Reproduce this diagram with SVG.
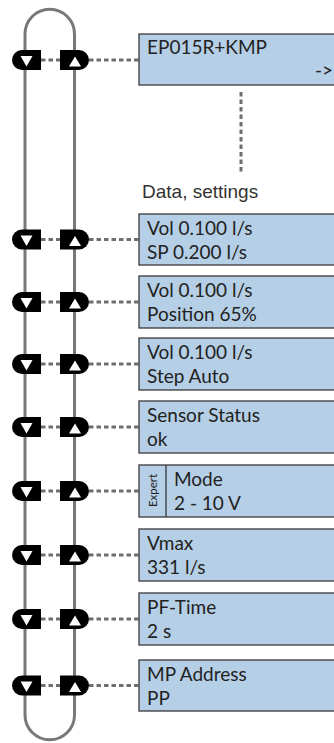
<svg xmlns="http://www.w3.org/2000/svg" width="334" height="743" viewBox="0 0 334 743">
<style>
.box{fill:#b5cfe6;stroke:#3a3a3a;stroke-width:1.3}
.t{font-family:Lato,"Liberation Sans",sans-serif;font-size:19px;fill:#222}
.lbl{font-family:"Liberation Sans",Arial,sans-serif;font-size:19px;fill:#333}
.exp{font-family:Lato,"Liberation Sans",sans-serif;font-size:11.5px;fill:#222}
.dot{stroke:#6e6e6e;stroke-width:3;stroke-dasharray:4.5 3;fill:none}
.loop{fill:none;stroke:#787878;stroke-width:3}
.pill{fill:#000}
.tri{fill:#fff}
</style>
<defs>
<g id="btns">
<path class="pill" d="M41,-10 H22 A10,10 0 0 0 22,10 H41 Z"/>
<polygon class="tri" points="20.5,-4 32.5,-4 26.5,6.5"/>
<path class="pill" d="M60,-10 H79 A10,10 0 0 1 79,10 H60 Z"/>
<polygon class="tri" points="69,6.5 81,6.5 75,-3.5"/>
</g>
</defs>
<path class="loop" d="M25,34 A24.75,24.75 0 0 1 74.5,34 V715 A24.75,24.75 0 0 1 25,715 Z"/>
<g id="connectors">
<line class="dot" x1="41" y1="60" x2="60" y2="60"/><line class="dot" x1="89" y1="60" x2="139" y2="60"/>
<line class="dot" x1="241" y1="92" x2="241" y2="173"/>
<line class="dot" x1="41" y1="239.5" x2="60" y2="239.5"/><line class="dot" x1="89" y1="239.5" x2="139" y2="239.5"/>
<line class="dot" x1="41" y1="302" x2="60" y2="302"/><line class="dot" x1="89" y1="302" x2="139" y2="302"/>
<line class="dot" x1="41" y1="364" x2="60" y2="364"/><line class="dot" x1="89" y1="364" x2="139" y2="364"/>
<line class="dot" x1="41" y1="427" x2="60" y2="427"/><line class="dot" x1="89" y1="427" x2="139" y2="427"/>
<line class="dot" x1="41" y1="491" x2="60" y2="491"/><line class="dot" x1="89" y1="491" x2="139" y2="491"/>
<line class="dot" x1="41" y1="555" x2="60" y2="555"/><line class="dot" x1="89" y1="555" x2="139" y2="555"/>
<line class="dot" x1="41" y1="619" x2="60" y2="619"/><line class="dot" x1="89" y1="619" x2="139" y2="619"/>
<line class="dot" x1="41" y1="685.5" x2="60" y2="685.5"/><line class="dot" x1="89" y1="685.5" x2="139" y2="685.5"/>
</g>
<g id="buttons">
<use href="#btns" y="60"/>
<use href="#btns" y="239.5"/>
<use href="#btns" y="302"/>
<use href="#btns" y="364"/>
<use href="#btns" y="427"/>
<use href="#btns" y="491"/>
<use href="#btns" y="555"/>
<use href="#btns" y="619"/>
<use href="#btns" y="685.5"/>
</g>
<g id="n0"><rect class="box" x="139" y="34" width="200" height="51"/><text class="t" x="147" y="53.5">EP015R+KMP</text><text class="t" x="315" y="77">-&gt;</text></g>
<text class="lbl" x="142" y="198">Data, settings</text>
<g id="n1"><rect class="box" x="139" y="214" width="200" height="51"/><text class="t" x="147" y="235">Vol 0.100 l/s</text><text class="t" x="147" y="259">SP 0.200 l/s</text></g>
<g id="n2"><rect class="box" x="139" y="276" width="200" height="52"/><text class="t" x="147" y="297">Vol 0.100 l/s</text><text class="t" x="147" y="321">Position 65%</text></g>
<g id="n3"><rect class="box" x="139" y="338" width="200" height="52"/><text class="t" x="147" y="359">Vol 0.100 l/s</text><text class="t" x="147" y="383">Step Auto</text></g>
<g id="n4"><rect class="box" x="139" y="401" width="200" height="52"/><text class="t" x="147" y="422">Sensor Status</text><text class="t" x="147" y="446">ok</text></g>
<g id="n5"><rect class="box" x="139" y="465" width="200" height="52"/><line x1="166" y1="465" x2="166" y2="517" stroke="#3a3a3a" stroke-width="1.3"/><text class="exp" transform="translate(157,490.5) rotate(-90)" text-anchor="middle">Expert</text><text class="t" x="174" y="486">Mode</text><text class="t" x="174" y="510">2 - 10 V</text></g>
<g id="n6"><rect class="box" x="139" y="529" width="200" height="52"/><text class="t" x="147" y="550">Vmax</text><text class="t" x="147" y="574">331 l/s</text></g>
<g id="n7"><rect class="box" x="139" y="593" width="200" height="52"/><text class="t" x="147" y="614">PF-Time</text><text class="t" x="147" y="638">2 s</text></g>
<g id="n8"><rect class="box" x="139" y="660" width="200" height="51"/><text class="t" x="147" y="680.5">MP Address</text><text class="t" x="147" y="704.5">PP</text></g>
</svg>
